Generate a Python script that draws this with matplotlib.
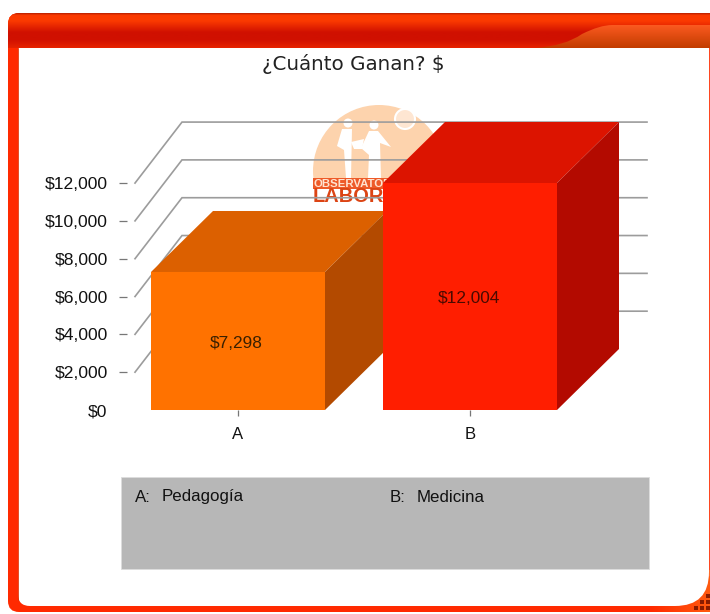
import numpy as np
import matplotlib
matplotlib.use('Agg')
import matplotlib.pyplot as plt
from matplotlib.colors import LinearSegmentedColormap
from matplotlib.patches import Circle, PathPatch, Polygon, Rectangle
from matplotlib.path import Path

W, H = 710, 614

categories = ['A', 'B']
legend_names = ['Pedagogía', 'Medicina']
values = [7298, 12004]
value_labels = ['$7,298', '$12,004']
yticks = [0, 2000, 4000, 6000, 8000, 10000, 12000]
ytick_labels = ['$0', '$2,000', '$4,000', '$6,000', '$8,000', '$10,000', '$12,000']

front_colors = ['#ff7200', '#ff1e00']
top_colors = ['#dc6000', '#dc1400']
side_colors = ['#b34a00', '#b30a00']

plt.rcParams['font.family'] = ['Liberation Sans', 'DejaVu Sans']

fig = plt.figure(figsize=(W / 100, H / 100), dpi=100, facecolor='white')

# === background: window frame, in pixel coords ===
bg = fig.add_axes([0, 0, 1, 1], zorder=0)
bg.set_xlim(0, W)
bg.set_ylim(H, 0)
bg.axis('off')


def rounded(x0, y0, x1, y1, r_tl, r_tr, r_br, r_bl):
    verts = [(x0 + r_tl, y0), (x1 - r_tr, y0), (x1, y0), (x1, y0 + r_tr),
             (x1, y1 - r_br), (x1, y1), (x1 - r_br, y1),
             (x0 + r_bl, y1), (x0, y1), (x0, y1 - r_bl),
             (x0, y0 + r_tl), (x0, y0), (x0 + r_tl, y0), (x0 + r_tl, y0)]
    codes = [Path.MOVETO, Path.LINETO, Path.CURVE3, Path.CURVE3,
             Path.LINETO, Path.CURVE3, Path.CURVE3,
             Path.LINETO, Path.CURVE3, Path.CURVE3,
             Path.LINETO, Path.CURVE3, Path.CURVE3, Path.CLOSEPOLY]
    return Path(verts, codes)


outer = PathPatch(rounded(8, 13, 730, 612, 11, 0, 0, 11), fc='#ff2a00', ec='none', zorder=1)
bg.add_patch(outer)

corner = bg.imshow(np.linspace(0, 1, 64).reshape(1, -1), extent=(650, 710, 612, 570),
                   cmap=LinearSegmentedColormap.from_list('c', ['#ff2a00', '#ff5a10']),
                   aspect='auto', zorder=2)
corner.set_clip_path(outer)

white = PathPatch(rounded(18, 30, 709, 606, 0, 0, 34, 12), fc='white', ec='none', zorder=3)
bg.add_patch(white)
bg.plot([709.5, 709.5], [48, 575], color='#f6bda6', lw=1, zorder=3)

dot_x = [696, 702, 708, 702, 708, 708]
dot_y = [608, 608, 608, 602, 602, 596]
bg.scatter(dot_x, dot_y, s=5, c='#8a1c00', marker='s', linewidths=0, zorder=4)

band_cmap = LinearSegmentedColormap.from_list(
    'band', [(0, '#b82000'), (0.06, '#fb3a00'), (0.22, '#fb3a00'),
             (0.55, '#d01000'), (0.75, '#d01000'), (1, '#e62200')])
band = bg.imshow(np.linspace(0, 1, 128).reshape(-1, 1), extent=(0, W, 48, 13),
                 cmap=band_cmap, aspect='auto', zorder=5)
band.set_clip_path(outer)

tab_path = Path([(535, 48), (565, 46), (582, 34), (600, 25), (612, 25), (710, 25), (710, 48), (535, 48)],
                [Path.MOVETO, Path.CURVE3, Path.CURVE3, Path.CURVE3, Path.CURVE3,
                 Path.LINETO, Path.LINETO, Path.CLOSEPOLY])
tab_patch = PathPatch(tab_path, fc='none', ec='none', zorder=5)
bg.add_patch(tab_patch)
tab = bg.imshow(np.linspace(0, 1, 64).reshape(-1, 1), extent=(530, W, 48, 25),
                cmap=LinearSegmentedColormap.from_list('tab', ['#fb5a20', '#c23c00']),
                aspect='auto', zorder=6)
tab.set_clip_path(tab_patch)
bg.plot([18, 18], [48, 600], color='#e03000', lw=0.6, zorder=6)
bg.set_xlim(0, W)
bg.set_ylim(H, 0)

# watermark logo
globe = Circle((379, 171), 66, fc='#fdd3ad', ec='none', zorder=7)
bg.add_patch(globe)
bg.add_patch(Rectangle((300, 180), 160, 40, fc='white', ec='none', zorder=7))
bg.add_patch(Circle((348, 123), 4.5, fc='white', ec='none', zorder=8))
bg.add_patch(Circle((374, 125), 4.5, fc='white', ec='none', zorder=8))
bg.add_patch(Polygon([(342, 129), (352, 129), (351, 178), (346, 178), (344, 150), (337, 146)],
                     fc='white', ec='none', zorder=8))
bg.add_patch(Polygon([(369, 131), (378, 131), (391, 147), (380, 143), (381, 178), (368, 178),
                      (369, 155), (361, 148)], fc='white', ec='none', zorder=8))
bg.add_patch(Polygon([(351, 142), (364, 139), (362, 149), (354, 149)], fc='white', ec='none', zorder=8))
bg.add_patch(Circle((405, 119), 10, fc='#fee6d2', ec='white', lw=1.5, zorder=8))
bg.add_patch(Rectangle((313, 178), 132, 11, fc='#ee5a28', ec='none', zorder=9))
bg.text(314, 183.8, 'OBSERVATORIO', fontsize=8.2, fontweight='bold', color='#ffe3d0',
        va='center', ha='left', zorder=10)
bg.text(313, 197, 'LABORAL', fontsize=14.4, fontweight='bold', color='#dc4414',
        va='center', ha='left', zorder=10)

bg.text(353, 64, '¿Cuánto Ganan? $', fontsize=14.3, family=['DejaVu Sans'], color='#222222',
        ha='center', va='center', zorder=10)

# legend box
bg.add_patch(Rectangle((121, 477), 528, 92, fc='#b7b7b7', ec='#dddddd', lw=0.6, zorder=7))
for cat, name, x in zip(categories, legend_names, [135, 390]):
    bg.text(x, 497, cat + ':', fontsize=12.2, color='#111111', va='center', zorder=10)
    bg.text(x + 27, 497, name, fontsize=12.2, color='#111111', va='center', zorder=10)

# === chart: front plane in data coords ===
px_per_unit = 227 / 12004
px_per_cat = 232
left, right, bottom, top = 127, 647, 410, 110
ax = fig.add_axes([left / W, 1 - bottom / H, (right - left) / W, (bottom - top) / H], zorder=1)
ax.patch.set_alpha(0)
ax.set_xlim((left - 238) / px_per_cat, (right - 238) / px_per_cat)
ax.set_ylim(0, (bottom - top) / px_per_unit)
for s in ax.spines.values():
    s.set_visible(False)

x = np.arange(len(categories))
bar_w = 174 / px_per_cat
depth_x = 62 / px_per_cat
depth_y = 61 / px_per_unit

# walls and gridlines behind the bars
grid_x0 = (135 - 238) / px_per_cat
grid_dx = 47 / px_per_cat
grid_end = ax.get_xlim()[1]
for t in yticks[1:]:
    ax.plot([grid_x0, grid_x0 + grid_dx, grid_end], [t, t + depth_y, t + depth_y],
            color='#9c9c9c', lw=1.2, zorder=1, solid_joinstyle='miter', clip_on=False)

for i, v in enumerate(values):
    x0, x1 = x[i] - bar_w / 2, x[i] + bar_w / 2
    ax.add_patch(Polygon([(x0, v), (x1, v), (x1 + depth_x, v + depth_y), (x0 + depth_x, v + depth_y)],
                         fc=top_colors[i], ec='none', zorder=2 + i * 2))
    ax.add_patch(Polygon([(x1, 0), (x1 + depth_x, depth_y), (x1 + depth_x, v + depth_y), (x1, v)],
                         fc=side_colors[i], ec='none', zorder=2 + i * 2))
    ax.bar(x[i], v, width=bar_w, color=front_colors[i], zorder=3 + i * 2)
    ax.annotate(value_labels[i], (x[i], v / 2), xytext=(-1, -1.5), textcoords='offset points',
                fontsize=12.4, color='#3a2000' if i == 0 else '#4a0a00',
                ha='center', va='center', zorder=8)

ax.set_yticks(yticks)
ax.set_yticklabels(ytick_labels)
ax.set_xticks(x)
ax.set_xticklabels(categories)
ax.tick_params(axis='y', length=6, width=0.9, color='#777777', labelsize=12.6, labelcolor='#111111', pad=8)
ax.tick_params(axis='x', length=4, width=0.9, color='#777777', labelsize=12, labelcolor='#111111', pad=8)
ax.yaxis.get_major_ticks()[0].tick1line.set_visible(False)

fig.savefig('out.png', dpi=100)
